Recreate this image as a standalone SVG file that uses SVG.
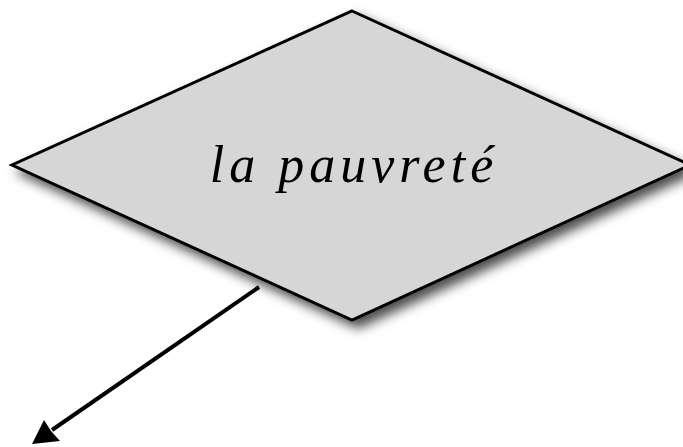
<svg xmlns="http://www.w3.org/2000/svg" width="683" height="447" viewBox="0 0 683 447">
<style>
.node{fill:#d6d6d6;stroke:#000;stroke-width:3;stroke-linejoin:miter}
.lbl{font-family:"Liberation Serif",serif;font-style:italic;font-size:52px;letter-spacing:5px;fill:#000}
.edge{stroke:#000;stroke-width:4;fill:none}
.head{fill:#000;stroke:none}
</style>
<defs>
<filter id="sh" x="-20%" y="-20%" width="150%" height="150%">
<feDropShadow dx="6" dy="7" stdDeviation="6" flood-color="#000" flood-opacity="0.7"/>
</filter>
</defs>
<g id="node-pauvrete">
<polygon class="node" filter="url(#sh)" points="352,11 690,165 352,320 12,165"/>
<text class="lbl" x="354" y="182" text-anchor="middle">la pauvreté</text>
</g>
<g id="connectors">
<line class="edge" x1="259" y1="287" x2="52" y2="430"/>
<polygon class="head" points="32,444 44,420 51,431 60,441"/>
</g>
</svg>
